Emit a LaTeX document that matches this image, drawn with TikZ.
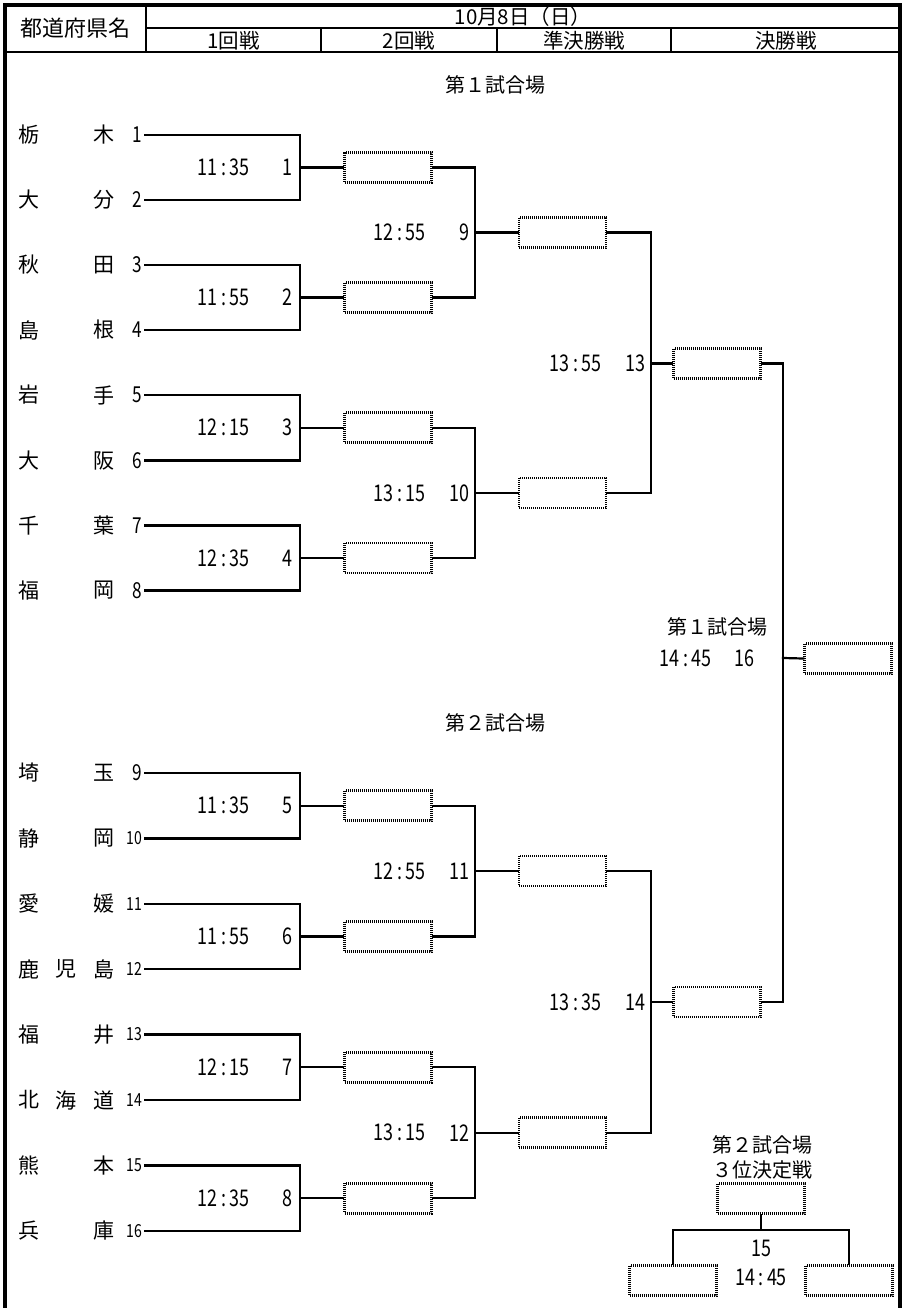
\documentclass[tikz,border=0pt]{standalone}
\usepackage{fontspec}
\setmainfont{Noto Sans CJK JP}
\newfontfamily\nar[FakeStretch=0.78]{Noto Sans CJK JP}
\newcommand{\tm}[2]{#1\hspace{3.5pt}:\hspace{3.5pt}#2}
\begin{document}
\begin{tikzpicture}[x=1pt,y=-1pt,
  ln/.style={line width=2.2pt,line cap=rect},
  frm/.style={line width=4pt},
  hln/.style={line width=2.6pt},
  wbox/.style={draw,line width=2.6pt,dash pattern=on 1pt off 1pt,minimum width=87pt,minimum height=30pt,inner sep=0pt},
  nm/.style={font=\fontsize{21}{21}\selectfont,inner sep=0pt},
  tn/.style={font=\nar\fontsize{22}{22}\selectfont,inner sep=0pt,anchor=east},
  tns/.style={font=\nar\fontsize{18}{18}\selectfont,inner sep=0pt,anchor=east},
  tl/.style={font=\nar\fontsize{23}{23}\selectfont,inner sep=0pt,anchor=east},
  hd/.style={font=\fontsize{20.5}{20.5}\selectfont,inner sep=0pt},
  ttl/.style={font=\fontsize{20}{20}\selectfont,inner sep=0pt}]
\useasboundingbox (0,0) rectangle (903,1308);
% frame and header
\draw[frm] (5,1308) -- (5,5) -- (899.5,5) -- (899.5,1308);
\draw[hln] (146,5) -- (146,52);
\draw[hln] (146,28) -- (899.5,28);
\draw[hln] (5,52) -- (899.5,52);
\draw[hln] (321,28) -- (321,52);
\draw[hln] (497,28) -- (497,52);
\draw[hln] (671,28) -- (671,52);
\node[font=\fontsize{22}{22}\selectfont,inner sep=0pt] (hpref) at (75,28.5) {都道府県名};
\node[hd] (hdate) at (523,16.5) {10月8日（日）};
\node[hd] (hr1) at (233.5,40.5) {1回戦};
\node[hd] (hr2) at (409,40.5) {2回戦};
\node[hd] (hsf) at (584,40.5) {準決勝戦};
\node[hd] (hf) at (786,40.5) {決勝戦};
\node[ttl] (v1) at (495,85) {第１試合場};
\node[ttl] (v2) at (495,723) {第２試合場};
% teams
\foreach \i/\y/\a/\b/\c in {1/135/栃//木,2/200/大//分,3/265/秋//田,4/330/島//根,5/395/岩//手,6/460.5/大//阪,7/525.5/千//葉,8/590.5/福//岡,9/773/埼//玉,10/838.5/静//岡,11/904/愛//媛,12/969/鹿/児/島,13/1034.5/福//井,14/1100/北/海/道,15/1165.5/熊//本,16/1231/兵//庫}{
  \node[nm] (na\i) at (29,\y) {\a};
  \node[nm] (nb\i) at (66,\y) {\b};
  \node[nm] (nc\i) at (104,\y) {\c};
  \coordinate (T\i) at (145,\y);
}
\foreach \i/\y in {1/135,2/200,3/265,4/330,5/395,6/460.5,7/525.5,8/590.5,9/773}{
  \node[tn] (num\i) at (142,\y) {\i};
}
\foreach \i/\y in {10/838.5,11/904,12/969,13/1034.5,14/1100,15/1165.5,16/1231}{
  \node[tns] (num\i) at (142,\y) {\i};
}
% round 1
\foreach \m/\p/\q/\y/\h/\mm in {1/1/2/167.5/11/35,2/3/4/297.5/11/55,3/5/6/427.75/12/15,4/7/8/558/12/35,5/9/10/805.75/11/35,6/11/12/936.5/11/55,7/13/14/1067.25/12/15,8/15/16/1198.25/12/35}{
  \coordinate (M\m) at (300,\y);
  \node[wbox] (B\m) at (388,\y) {};
  \draw[ln] (T\p) -| (M\m) |- (T\q);
  \draw[ln] (M\m) -- (B\m.west);
  \node[tl] (tm\m) at (250,\y) {\tm{\h}{\mm}};
  \node[tl] (mn\m) at (293,\y) {\m};
}
% round 2
\foreach \m/\p/\q/\y/\h/\mm in {9/1/2/232.5/12/55,10/3/4/492.9/13/15,11/5/6/871.1/12/55,12/7/8/1132.75/13/15}{
  \coordinate (M\m) at (475,\y);
  \node[wbox] (B\m) at (562.5,\y) {};
  \draw[ln] (B\p.east) -| (M\m) |- (B\q.east);
  \draw[ln] (M\m) -- (B\m.west);
  \node[tl] (tm\m) at (426,\y) {\tm{\h}{\mm}};
  \node[tl] (mn\m) at (470,\y) {\m};
}
% semifinals
\foreach \m/\p/\q/\y/\h/\mm in {13/9/10/363.5/13/55,14/11/12/1001.9/13/35}{
  \coordinate (M\m) at (651,\y);
  \node[wbox] (B\m) at (717,\y) {};
  \draw[ln] (B\p.east) -| (M\m) |- (B\q.east);
  \draw[ln] (M\m) -- (B\m.west);
  \node[tl] (tm\m) at (602,\y) {\tm{\h}{\mm}};
  \node[tl] (mn\m) at (646,\y) {\m};
}
% final
\coordinate (M16) at (783,658);
\node[wbox] (B16) at (848,658.5) {};
\draw[ln] (B13.east) -| (M16) |- (B14.east);
\draw[ln] (M16) -- (B16.west);
\node[ttl] (v3) at (717,627) {第１試合場};
\node[tl] (tm16) at (712,658) {\tm{14}{45}};
\node[tl] (mn16) at (755,658) {16};
% third place
\node[ttl] (v4) at (762,1145) {第２試合場};
\node[ttl] (v5) at (762,1170) {３位決定戦};
\node[wbox] (Q) at (761,1198.5) {};
\node[wbox] (QL) at (673,1280.5) {};
\node[wbox] (QR) at (849,1280.5) {};
\coordinate (J) at (761,1230);
\draw[ln] (Q.south) -- (J);
\draw[ln] (QL.north) |- (J) -| (QR.north);
\node[font=\nar\fontsize{23}{23}\selectfont,inner sep=0pt] (n15) at (761,1248) {15};
\node[font=\nar\fontsize{23}{23}\selectfont,inner sep=0pt] (t15) at (761,1277) {\tm{14}{45}};
\end{tikzpicture}
\end{document}
